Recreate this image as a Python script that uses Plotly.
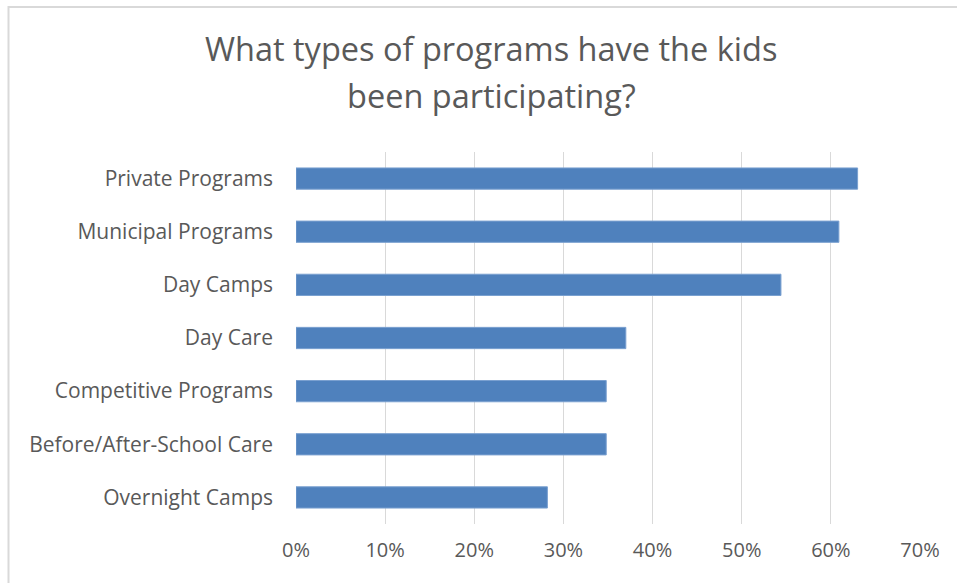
import plotly.graph_objects as go

categories = ["Private Programs", "Municipal Programs", "Day Camps", "Day Care",
              "Competitive Programs", "Before/After-School Care", "Overnight Camps"]
values = [0.630, 0.609, 0.544, 0.370, 0.348, 0.348, 0.282]
tick_vals = [0, 0.1, 0.2, 0.3, 0.4, 0.5, 0.6, 0.7]
tick_text = ["0%", "10%", "20%", "30%", "40%", "50%", "60%", "70%"]
title_lines = ["What types of programs have the kids", "been participating?"]

W, H = 957, 583
L, R, T, B = 296, 37, 152, 59
pw, ph = W - L - R, H - T - B

fig = go.Figure(go.Bar(
    x=values, y=categories, orientation="h",
    marker=dict(color="#4F81BD", line=dict(color="#7AA0D0", width=1)),
))

font_family = "Open Sans"
grey = "#595959"

fig.update_layout(
    width=W, height=H,
    margin=dict(l=L, r=R, t=T, b=B, autoexpand=False),
    paper_bgcolor="white", plot_bgcolor="white",
    bargap=0.6, showlegend=False,
    font=dict(family=font_family, color=grey, size=20),
    xaxis=dict(range=[0, 0.7], tickvals=tick_vals, ticktext=tick_text,
               showgrid=True, gridcolor="#D9D9D9", gridwidth=1,
               zeroline=False, showline=False, ticks="",
               ticklabelstandoff=12, tickfont=dict(size=20, color=grey)),
    yaxis=dict(categoryorder="array", categoryarray=categories[::-1],
               showgrid=False, zeroline=False, showline=False, ticks="",
               ticklabelstandoff=22, tickfont=dict(size=21, color=grey)),
)

# title as two text lines
title_y = [48, 96]
for line, yp in zip(title_lines, title_y):
    fig.add_annotation(text=line, xref="paper", yref="paper",
                       x=(491 - L) / pw, y=1 + (T - yp) / ph,
                       xanchor="center", yanchor="middle", showarrow=False,
                       font=dict(family=font_family, size=32.5, color=grey))

# chart border (left and top visible)
fig.add_shape(type="rect", xref="paper", yref="paper",
              x0=(8.5 - L) / pw, x1=(962 - L) / pw,
              y0=-(590 - (T + ph)) / ph, y1=1 + (T - 7) / ph,
              line=dict(color="#D9D9D9", width=2), layer="below")

fig.write_html("out.html")
